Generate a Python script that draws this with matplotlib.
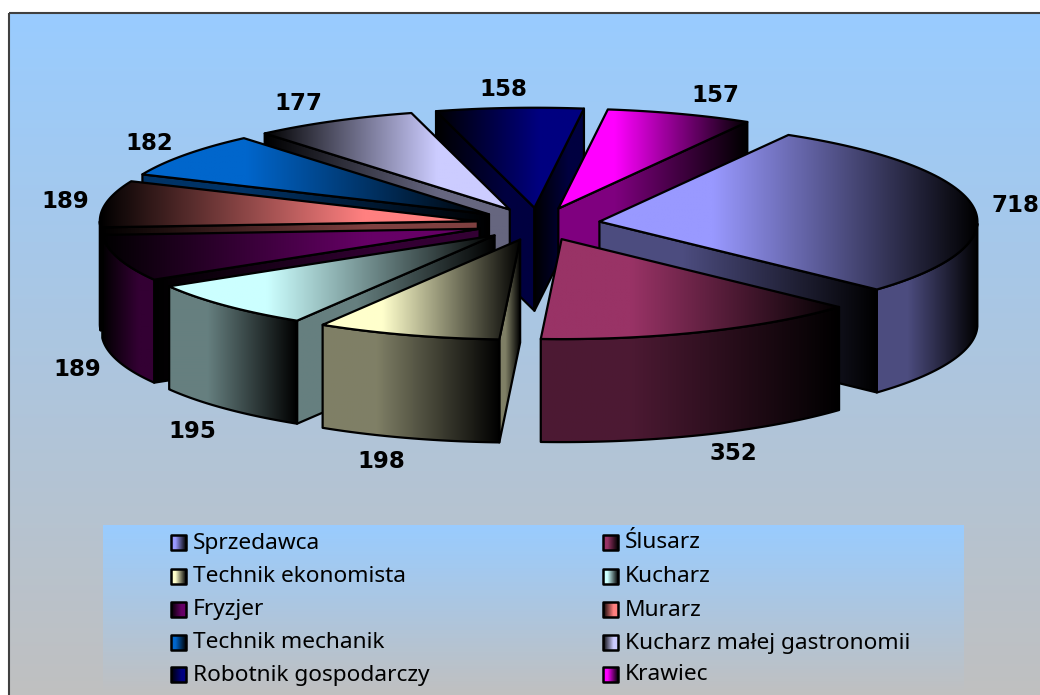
import numpy as np
import matplotlib
matplotlib.use('Agg')
import matplotlib.pyplot as plt
from matplotlib.patches import Polygon, Rectangle

# data
names = ['Sprzedawca', 'Ślusarz', 'Technik ekonomista', 'Kucharz', 'Fryzjer',
         'Murarz', 'Technik mechanik', 'Kucharz małej gastronomii',
         'Robotnik gospodarczy', 'Krawiec']
values = [718, 352, 198, 195, 189, 189, 182, 177, 158, 157]
colors = ['#9999FF', '#993366', '#FFFFCC', '#CCFFFF', '#660066',
          '#FF8080', '#0066CC', '#CCCCFF', '#000080', '#FF00FF']
# wedges whose gradient goes dark -> light from left to right
dark_left = [False, False, False, False, True, True, False, True, True, False]

# layout in pixels
W, H = 1040, 695
CX, CY = 538.5, 224
RX, RY = 378, 100
DEPTH = 103
EXPLODE = 0.163
START = 60.0
PLATEAU = 0.3
BG_TOP = '#99CCFF'
BG_BOT = '#C0C0C0'
label_xy = [(1015, 205), (733, 454), (381, 462), (192, 432), (77, 370),
            (65, 202), (149, 144), (298, 104), (503, 90), (715, 96)]
legend_rows = [542, 576, 609, 642, 674]

fig = plt.figure(figsize=(W / 100, H / 100), dpi=100, facecolor='white')
ax = fig.add_axes([0, 0, 1, 1])
ax.set_axis_off()


def rgb(c):
    return np.array(matplotlib.colors.to_rgb(c))


def vgrad(x0, x1, y0, y1, c0, c1, z):
    t = np.linspace(0, 1, 256)[:, None, None]
    img = rgb(c0)[None, None, :] * (1 - t) + rgb(c1)[None, None, :] * t
    return ax.imshow(img, extent=(x0, x1, y1, y0), aspect='auto', zorder=z,
                     interpolation='bilinear')


def face(pts, color, rev, z, lw=1.6):
    # one polygon filled with a horizontal gradient from color to black
    pts = np.asarray(pts)
    x0, x1 = pts[:, 0].min(), pts[:, 0].max()
    y0, y1 = pts[:, 1].min(), pts[:, 1].max()
    t = np.linspace(0, 1, 256)
    k = np.clip((1 - t) / (1 - PLATEAU), 0, 1)
    if rev:
        k = k[::-1]
    img = rgb(color)[None, None, :] * k[None, :, None]
    im = ax.imshow(img, extent=(x0, x1, y1, y0), aspect='auto', zorder=z,
                   interpolation='bilinear')
    outline = Polygon(pts, closed=True, facecolor='none', edgecolor='black',
                      linewidth=lw, joinstyle='round', zorder=z + 0.1)
    ax.add_patch(outline)
    im.set_clip_path(outline)


# background
vgrad(9, W + 5, 13, H + 5, BG_TOP, BG_BOT, 0)
ax.add_patch(Rectangle((9, 13), W, H, facecolor='none', edgecolor='#404040',
                       linewidth=1.5, zorder=1))

# wedge angles, clockwise from START
total = float(sum(values))
sweeps = [v / total * 360 for v in values]
ends = np.cumsum(sweeps)
wedges = []
for i in range(len(values)):
    t1 = START - (ends[i] - sweeps[i])
    t2 = START - ends[i]
    wedges.append((i, t1, t2, (t1 + t2) / 2))

# back slices first
wedges.sort(key=lambda w: -np.sin(np.radians(w[3])))

z = 2
for i, t1, t2, mid in wedges:
    m = np.radians(mid)
    ax_ = CX + EXPLODE * RX * np.cos(m)
    ay_ = CY - EXPLODE * RY * np.sin(m)
    apex = (ax_, ay_)

    def point(a):
        return (ax_ + RX * np.cos(np.radians(a)), ay_ - RY * np.sin(np.radians(a)))

    def drop(p):
        return (p[0], p[1] + DEPTH)

    side = rgb(colors[i]) * 0.5

    # radial walls that face the viewer
    if np.cos(np.radians(t1)) < 0:
        p = point(t1)
        face([apex, p, drop(p), drop(apex)], side, dark_left[i], z)
        z += 1
    if np.cos(np.radians(t2)) > 0:
        p = point(t2)
        face([apex, p, drop(p), drop(apex)], side, dark_left[i], z)
        z += 1

    # outer wall, front part of the rim only
    arc = np.linspace(t1, t2, 80)
    arc = arc[np.sin(np.radians(arc)) <= 0]
    if len(arc) > 1:
        rim = [point(a) for a in arc]
        face(rim + [drop(p) for p in rim[::-1]], side, dark_left[i], z)
        z += 1

    # top
    top = [apex] + [point(a) for a in np.linspace(t1, t2, 80)]
    face(top, colors[i], dark_left[i], z)
    z += 1

# value labels
for v, (x, y) in zip(values, label_xy):
    ax.text(x, y, str(v), ha='center', va='center', fontsize=16.5,
            fontweight='bold', family='DejaVu Sans', color='black', zorder=z)

# legend
z += 1
vgrad(103, 964, 525, H, BG_TOP, BG_BOT, z)
for i, name in enumerate(names):
    row = legend_rows[i // 2]
    x = 171 if i % 2 == 0 else 603
    face([(x, row - 7), (x + 15, row - 7), (x + 15, row + 8), (x, row + 8)],
         colors[i], dark_left[i], z + 1, lw=1.8)
    ax.text(x + 22, row + 1, name, ha='left', va='center', fontsize=16.3,
            family='Noto Sans', color='black', zorder=z + 2)

ax.set_xlim(0, W)
ax.set_ylim(H, 0)
fig.savefig('out.png', dpi=100, facecolor='white')
